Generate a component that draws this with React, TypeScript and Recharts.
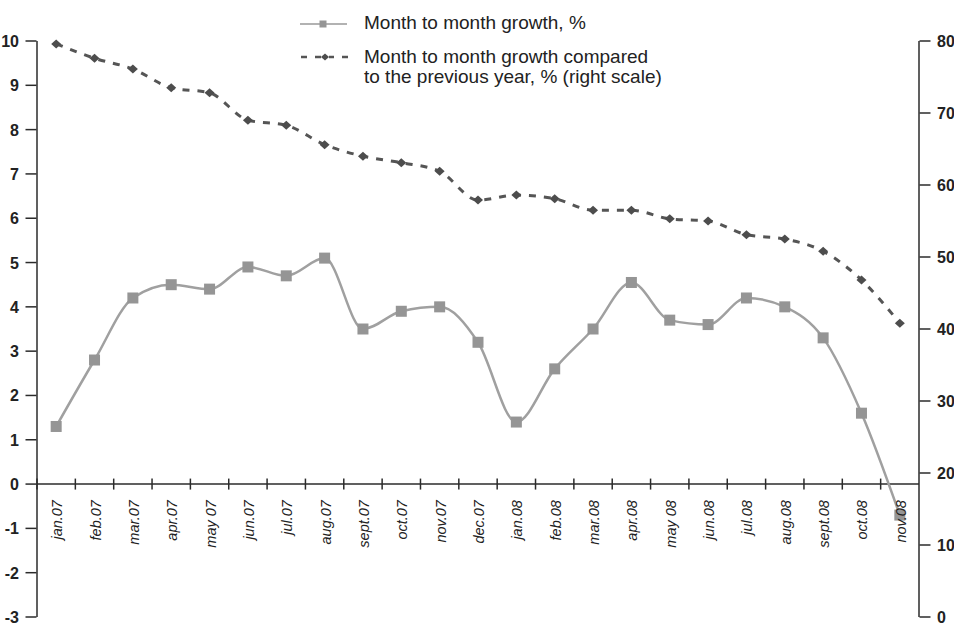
import { ComposedChart, Line, XAxis, YAxis, ReferenceLine, Legend } from 'recharts';

const months = [
  'jan.07', 'feb.07', 'mar.07', 'apr.07', 'may 07', 'jun.07', 'jul.07', 'aug.07',
  'sept.07', 'oct.07', 'nov.07', 'dec.07', 'jan.08', 'feb.08', 'mar.08', 'apr.08',
  'may 08', 'jun.08', 'jul.08', 'aug.08', 'sept.08', 'oct.08', 'nov.08',
];
const monthGrowth = [
  1.3, 2.8, 4.2, 4.5, 4.4, 4.9, 4.7, 5.1, 3.5, 3.9, 4.0, 3.2,
  1.4, 2.6, 3.5, 4.55, 3.7, 3.6, 4.2, 4.0, 3.3, 1.6, -0.7,
];
const yearGrowth = [
  79.6, 77.6, 76.1, 73.5, 72.8, 69.0, 68.3, 65.6, 64.0, 63.1, 61.9, 57.9,
  58.6, 58.1, 56.5, 56.5, 55.3, 55.0, 53.1, 52.5, 50.8, 46.8, 40.8,
];
const leftTicks = [-3, -2, -1, 0, 1, 2, 3, 4, 5, 6, 7, 8, 9, 10];
const rightTicks = [0, 10, 20, 30, 40, 50, 60, 70, 80];

const data = months.map((m, i) => ({ month: m, mm: monthGrowth[i], yy: yearGrowth[i] }));

const W = 954;
const H = 626;
const TOP = 41;
const PLOT_H = 576;
const LEFT_W = 37;
const RIGHT_W = 35;
const PLOT_W = W - LEFT_W - RIGHT_W;
const BAND = PLOT_W / months.length;
const ZERO_Y = TOP + (PLOT_H * 10) / 13;
const AXIS = '#2b2b2b';
const FONT = '"Liberation Sans", Arial, sans-serif';

function LeftTick({ x, y, payload }: any) {
  return (
    <g>
      <line x1={x - 5.5} x2={x + 5.5} y1={y} y2={y} stroke={AXIS} strokeWidth={1.5} />
      <text x={x - 12} y={y + 6} textAnchor="end" fontSize={16} fontWeight="bold" fill="#222" fontFamily={FONT}>
        {payload.value}
      </text>
    </g>
  );
}

function RightTick({ x, y, payload }: any) {
  return (
    <g>
      <line x1={x - 5.5} x2={x + 5.5} y1={y} y2={y} stroke={AXIS} strokeWidth={1.5} />
      <text x={x + 12} y={y + 6} textAnchor="start" fontSize={16} fontWeight="bold" fill="#222" fontFamily={FONT}>
        {payload.value}
      </text>
    </g>
  );
}

function XTick({ x, payload }: any) {
  const bx = x - BAND / 2;
  const tx = x + 6;
  const ty = ZERO_Y + 16;
  return (
    <g>
      <line x1={bx} x2={bx} y1={ZERO_Y - 5.5} y2={ZERO_Y + 5.5} stroke={AXIS} strokeWidth={1.5} />
      <text
        x={tx}
        y={ty}
        transform={`rotate(-90 ${tx} ${ty})`}
        textAnchor="end"
        fontSize={14.5}
        fontStyle="italic"
        fill="#222"
        fontFamily={FONT}
      >
        {payload.value}
      </text>
    </g>
  );
}

function Square({ cx, cy, index }: any) {
  return <rect key={`s${index}`} x={cx - 5.5} y={cy - 5.5} width={11} height={11} fill="#959595" />;
}

function Diamond({ cx, cy, index }: any) {
  return (
    <polygon
      key={`d${index}`}
      points={`${cx},${cy - 4.5} ${cx + 5},${cy} ${cx},${cy + 4.5} ${cx - 5},${cy}`}
      fill="#4d4d4d"
    />
  );
}

function LegendBox() {
  return (
    <svg width={420} height={90} style={{ display: 'block', fontFamily: FONT }}>
      <line x1={5} x2={52} y1={24} y2={24} stroke="#999" strokeWidth={1.5} />
      <rect x={24.5} y={20.5} width={7} height={7} fill="#959595" />
      <text x={69} y={29} fontSize={19} fill="#222">Month to month growth, %</text>
      <g stroke="#555" strokeWidth={2.5}>
        <line x1={6} x2={12} y1={57} y2={57} />
        <line x1={20} x2={26} y1={57} y2={57} />
        <line x1={34} x2={39} y1={57} y2={57} />
        <line x1={47} x2={53} y1={57} y2={57} />
      </g>
      <polygon points="30,53.5 34,57 30,60.5 26,57" fill="#4d4d4d" />
      <text x={69} y={63} fontSize={19} fill="#222">Month to month growth compared</text>
      <text x={69} y={83} fontSize={19} fill="#222">to the previous year, % (right scale)</text>
    </svg>
  );
}

export default function App() {
  return (
    <div style={{ width: W, height: H, background: '#fff', overflow: 'hidden' }}>
      <style>{'html, body { margin: 0; padding: 0; overflow: hidden; }'}</style>
      <ComposedChart
        width={W}
        height={H}
        data={data}
        margin={{ top: TOP, right: 0, bottom: 8, left: 0 }}
        style={{ overflow: 'visible' }}
      >
        <XAxis
          dataKey="month"
          height={1}
          axisLine={false}
          tickLine={false}
          tickMargin={0}
          interval={0}
          padding={{ left: BAND / 2, right: BAND / 2 }}
          tick={<XTick />}
        />
        <YAxis
          yAxisId="left"
          width={LEFT_W}
          domain={[-3, 10]}
          ticks={leftTicks}
          interval={0}
          tickLine={false}
          tickMargin={0}
          axisLine={{ stroke: AXIS, strokeWidth: 1.5 }}
          tick={<LeftTick />}
        />
        <YAxis
          yAxisId="right"
          orientation="right"
          width={RIGHT_W}
          domain={[0, 80]}
          ticks={rightTicks}
          interval={0}
          tickLine={false}
          tickMargin={0}
          axisLine={{ stroke: AXIS, strokeWidth: 1.5 }}
          tick={<RightTick />}
        />
        <ReferenceLine yAxisId="left" y={0} stroke={AXIS} strokeWidth={1.5} />
        <Legend
          layout="vertical"
          verticalAlign="middle"
          align="center"
          wrapperStyle={{ position: 'absolute', left: 295, top: 0, width: 420, height: 90 }}
          content={() => <LegendBox />}
        />
        <Line
          yAxisId="right"
          type="monotone"
          dataKey="yy"
          stroke="#555"
          strokeWidth={3}
          strokeDasharray="7 8"
          dot={<Diamond />}
          isAnimationActive={false}
        />
        <Line
          yAxisId="left"
          type="monotone"
          dataKey="mm"
          stroke="#a0a0a0"
          strokeWidth={2.5}
          dot={<Square />}
          isAnimationActive={false}
        />
      </ComposedChart>
    </div>
  );
}
